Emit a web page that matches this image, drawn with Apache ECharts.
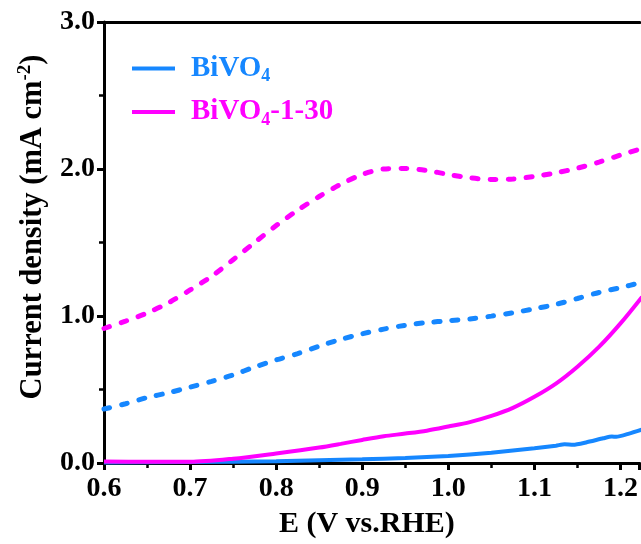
<!DOCTYPE html>
<html>
<head>
<meta charset="utf-8">
<script src="https://cdn.jsdelivr.net/npm/echarts@6/dist/echarts.min.js"></script>
<style>html,body{margin:0;padding:0;background:#fff}#c{width:641px;height:544px}</style>
</head>
<body>
<div id="c"></div>
<script>
// Potential (V vs. RHE)
const xDashed = [0.6,0.625,0.65,0.675,0.7,0.725,0.75,0.775,0.8,0.825,0.85,0.875,0.9,0.925,0.95,0.975,1.0,1.025,1.05,1.075,1.1,1.125,1.15,1.175,1.2,1.225];
const bivo4Dashed   = [0.367,0.403,0.445,0.478,0.516,0.555,0.599,0.653,0.701,0.744,0.795,0.841,0.879,0.911,0.937,0.955,0.968,0.98,0.999,1.022,1.049,1.079,1.119,1.16,1.193,1.229];
const bivo130Dashed = [0.915,0.965,1.02,1.09,1.177,1.27,1.383,1.50,1.615,1.72,1.813,1.896,1.963,2.0,2.004,1.99,1.963,1.94,1.929,1.932,1.95,1.974,2.006,2.047,2.095,2.14];

const xSolidM = [0.6,0.65,0.7,0.75,0.8,0.85,0.875,0.9,0.925,0.95,0.975,1.0,1.025,1.05,1.075,1.1,1.125,1.15,1.175,1.2,1.225];
const bivo130Solid = [0.01,0.008,0.008,0.029,0.065,0.105,0.13,0.157,0.182,0.2,0.22,0.248,0.278,0.32,0.375,0.45,0.54,0.655,0.79,0.95,1.13];

const xSolidB = [0.6,0.7,0.8,0.9,0.95,1.0,1.05,1.1,1.125,1.135,1.145,1.16,1.18,1.19,1.195,1.21,1.225];
const bivo4Solid = [0.004,0.006,0.012,0.025,0.034,0.048,0.07,0.1,0.118,0.128,0.124,0.14,0.168,0.18,0.178,0.2,0.228];

const xTicks = ['0.6','0.7','0.8','0.9','1.0','1.1','1.2'];
const yTicks = ['0.0','1.0','2.0','3.0'];

const BLUE = '#1687FF', MAG = '#FF00FF';
const FONT = 'Liberation Serif';
const pair = (xs, ys) => xs.map((x, i) => [x, ys[i]]);

const chart = echarts.init(document.getElementById('c'));
chart.setOption({
  animation: false,
  backgroundColor: '#fff',
  grid: {left: 104, top: 22, right: 0, height: 442, containLabel: false},
  legend: {
    left: 132, top: 54, padding: 0, orient: 'vertical', itemGap: 12,
    icon: 'rect', itemWidth: 43, itemHeight: 4,
    data: ['BiVO4', 'BiVO4-1-30'],
    formatter: function (n) {
      return n === 'BiVO4' ? '{b|BiVO}{bs|4}' : '{m|BiVO}{ms|4}{m|-1-30}';
    },
    textStyle: {
      fontFamily: FONT, fontWeight: 'bold', fontSize: 29, padding: [0,0,0,11],
      rich: {
        b: {color: BLUE, fontFamily: FONT, fontWeight: 'bold', fontSize: 29, lineHeight: 34},
        bs: {color: BLUE, fontFamily: FONT, fontWeight: 'bold', fontSize: 18, verticalAlign: 'bottom', lineHeight: 34, padding: [10,0,0,0]},
        m: {color: MAG, fontFamily: FONT, fontWeight: 'bold', fontSize: 29, lineHeight: 34},
        ms: {color: MAG, fontFamily: FONT, fontWeight: 'bold', fontSize: 18, verticalAlign: 'bottom', lineHeight: 34, padding: [10,0,0,0]}
      }
    }
  },
  xAxis: [{
    type: 'value', min: 0.6, max: 1.2223, interval: 0.1,
    name: 'E (V vs.RHE)', nameLocation: 'middle', nameGap: 46,
    nameTextStyle: {fontFamily: FONT, fontWeight: 'bold', fontSize: 30, color: '#000', padding: [0, 10, 0, 0]},
    axisLine: {lineStyle: {color: '#000', width: 3}},
    axisTick: {length: 7, lineStyle: {color: '#000', width: 3}},
    minorTick: {show: true, splitNumber: 2, length: 5, lineStyle: {color: '#000', width: 2.5}},
    splitLine: {show: false},
    axisLabel: {
      fontFamily: FONT, fontWeight: 'bold', fontSize: 28, color: '#000', margin: 12,
      showMaxLabel: false,
      formatter: function (v) { const s = v.toFixed(1); return xTicks.indexOf(s) >= 0 ? s : ''; }
    }
  }, {
    type: 'value', position: 'top', min: 0.6, max: 1.2223,
    axisLine: {show: true, lineStyle: {color: '#000', width: 3}},
    axisTick: {show: false}, axisLabel: {show: false}, splitLine: {show: false}
  }],
  yAxis: {
    type: 'value', min: 0, max: 3, interval: 1,
    name: '{a|Current density (mA cm}{s|-2}{a|)}', nameLocation: 'middle', nameGap: 52,
    nameTextStyle: {
      padding: [0, 0, 0, 31],
      rich: {
        a: {fontFamily: FONT, fontWeight: 'bold', fontSize: 30.5, color: '#000', lineHeight: 36},
        s: {fontFamily: FONT, fontWeight: 'bold', fontSize: 19, color: '#000', verticalAlign: 'top', lineHeight: 36, padding: [0,0,12,0]}
      }
    },
    axisLine: {show: true, lineStyle: {color: '#000', width: 3}},
    axisTick: {length: 7, lineStyle: {color: '#000', width: 3}},
    minorTick: {show: true, splitNumber: 2, length: 5, lineStyle: {color: '#000', width: 2.5}},
    splitLine: {show: false},
    axisLabel: {
      fontFamily: FONT, fontWeight: 'bold', fontSize: 28, color: '#000', margin: 9,
      formatter: function (v) { return yTicks[Math.round(v)]; }
    }
  },
  series: [
    {name: 'BiVO4 dashed', type: 'line', data: pair(xDashed, bivo4Dashed), showSymbol: false, smooth: 0.3,
     lineStyle: {color: BLUE, width: 5, type: [6, 12], cap: 'round'}, itemStyle: {color: BLUE}},
    {name: 'BiVO4-1-30 dashed', type: 'line', data: pair(xDashed, bivo130Dashed), showSymbol: false, smooth: 0.3,
     lineStyle: {color: MAG, width: 5, type: [6, 12], cap: 'round'}, itemStyle: {color: MAG}},
    {name: 'BiVO4', type: 'line', data: pair(xSolidB, bivo4Solid), showSymbol: false, smooth: 0.2,
     lineStyle: {color: BLUE, width: 4}, itemStyle: {color: BLUE}},
    {name: 'BiVO4-1-30', type: 'line', data: pair(xSolidM, bivo130Solid), showSymbol: false, smooth: 0.3,
     lineStyle: {color: MAG, width: 4}, itemStyle: {color: MAG}}
  ]
});
</script>
</body>
</html>
